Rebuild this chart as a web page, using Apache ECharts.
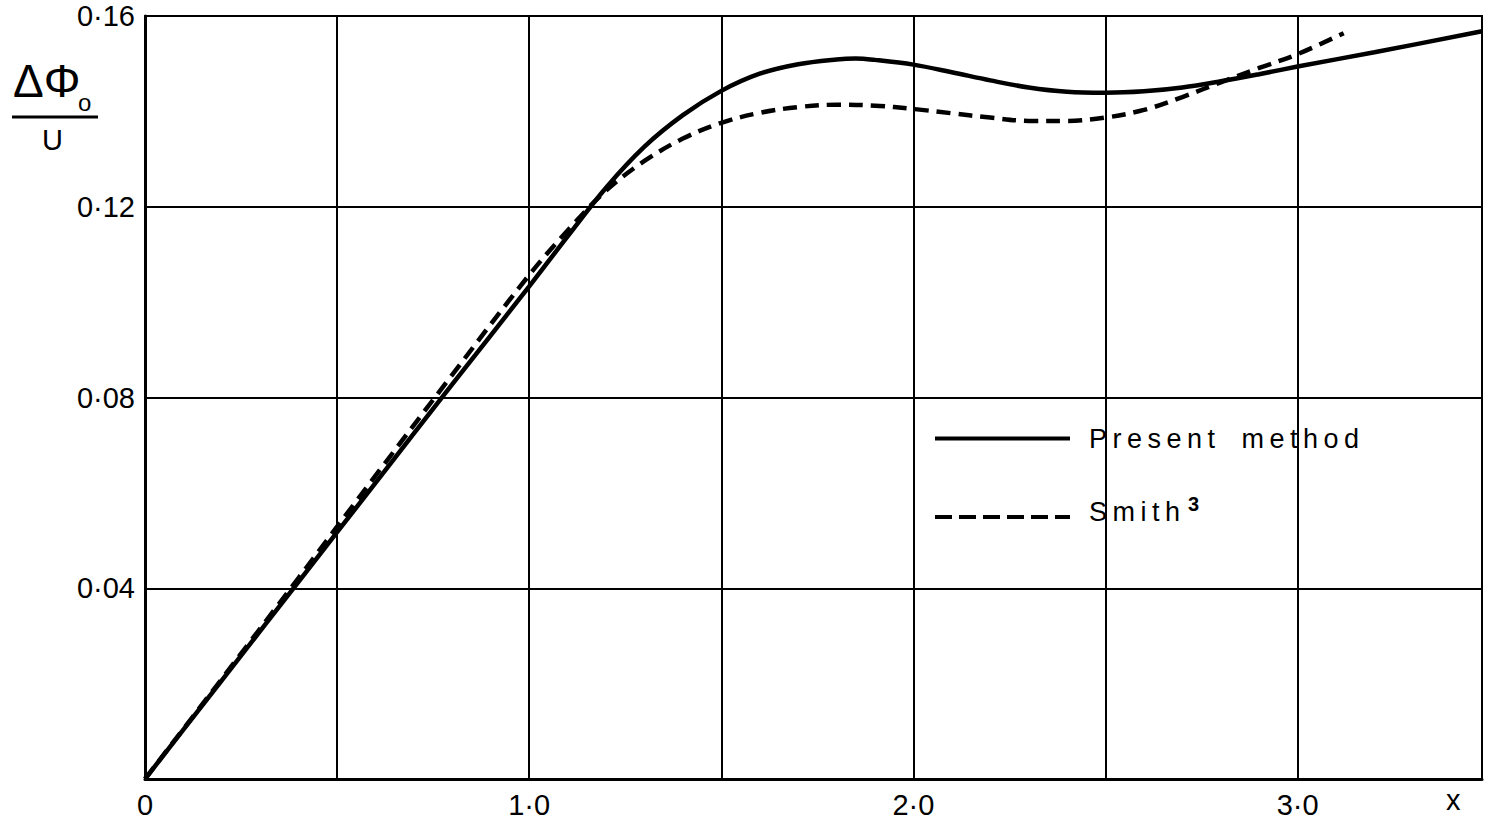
<!DOCTYPE html>
<html>
<head>
<meta charset="utf-8">
<script src="https://cdn.jsdelivr.net/npm/echarts@6/dist/echarts.min.js"></script>
<style>
  html, body { margin: 0; padding: 0; background: #fff; }
  #chart { width: 1490px; height: 827px; }
  #chart text[style*="27px"] { letter-spacing: 5.5px; word-spacing: 8px; }
</style>
</head>
<body>
<div id="chart"></div>
<script>
// Present method (solid)
const xPresent = [0, 0.2, 0.4, 0.6, 0.8, 1.0, 1.1, 1.2, 1.3, 1.4, 1.5, 1.6, 1.7, 1.8, 1.85, 1.9, 2.0, 2.1, 2.2, 2.3, 2.4, 2.5, 2.6, 2.7, 2.8, 2.9, 3.0, 3.2, 3.48];
const yPresent = [0, 0.0207, 0.0414, 0.0621, 0.0828, 0.1033, 0.1138, 0.1240, 0.1326, 0.1392, 0.1443, 0.1479, 0.1499, 0.1509, 0.1511, 0.1508, 0.1498, 0.1482, 0.1465, 0.1450, 0.1441, 0.1439, 0.1442, 0.1450, 0.1463, 0.1478, 0.1494, 0.1524, 0.1568];
// Smith^3 (dashed)
const xSmith = [0, 0.2, 0.4, 0.6, 0.8, 1.0, 1.1, 1.2, 1.3, 1.4, 1.5, 1.6, 1.7, 1.8, 1.9, 2.0, 2.1, 2.2, 2.3, 2.4, 2.5, 2.6, 2.7, 2.8, 2.9, 3.0, 3.12];
const ySmith = [0, 0.0210, 0.0422, 0.0636, 0.0848, 0.1057, 0.1150, 0.1234, 0.1296, 0.1343, 0.1376, 0.1397, 0.1409, 0.1414, 0.1412, 0.1405, 0.1396, 0.1387, 0.1380, 0.1380, 0.1387, 0.1403, 0.1430, 0.1461, 0.1491, 0.1520, 0.1564];

const seriesNames = ['Present method', 'Smith³'];
const legendRich = { 'Present method': '{p|Present method}', 'Smith³': '{a|Smith}{b|3}' };
const xLabelValues = [0, 1, 2, 3];
const xLabelTexts = ['0', '1·0', '2·0', '3·0'];
const yLabelValues = [0.04, 0.08, 0.12, 0.16];
const yLabelTexts = ['0·04', '0·08', '0·12', '0·16'];
const xAxisName = 'x';

const FONT = "'Liberation Sans'";
const DASH = [14, 8];

function pairs(xs, ys) { return xs.map((x, i) => [x, ys[i]]); }
function lookup(vals, texts, v) {
  for (let i = 0; i < vals.length; i++) if (Math.abs(vals[i] - v) < 1e-9) return texts[i];
  return '';
}

const chart = echarts.init(document.getElementById('chart'), null, { renderer: 'svg' });
chart.setOption({
  backgroundColor: '#fff',
  animation: false,
  grid: { left: 145, right: 8, top: 16, bottom: 48, show: true, borderColor: '#000', borderWidth: 2 },
  xAxis: {
    type: 'value', min: 0, max: 3.48, interval: 0.5,
    name: xAxisName, nameLocation: 'end', nameGap: -36,
    nameTextStyle: { fontFamily: FONT, fontSize: 29, color: '#000', verticalAlign: 'top', padding: [6, 0, 0, 0] },
    axisLine: { show: true, lineStyle: { color: '#000', width: 3 } },
    axisTick: { show: false },
    axisLabel: { interval: 0, margin: 11, fontFamily: FONT, fontSize: 29, color: '#000',
      formatter: v => lookup(xLabelValues, xLabelTexts, v) },
    splitLine: { show: true, lineStyle: { color: '#000', width: 2 } }
  },
  yAxis: {
    type: 'value', min: 0, max: 0.16, interval: 0.04,
    axisLine: { show: true, lineStyle: { color: '#000', width: 3 } },
    axisTick: { show: false },
    axisLabel: { margin: 10, fontFamily: FONT, fontSize: 29, color: '#000',
      formatter: v => lookup(yLabelValues, yLabelTexts, v) },
    splitLine: { show: true, lineStyle: { color: '#000', width: 2 } }
  },
  legend: {
    orient: 'vertical', left: 933, top: 425, padding: 0,
    itemWidth: 135, itemHeight: 14, itemGap: 42,
    itemStyle: { opacity: 0 },
    formatter: name => legendRich[name] || name,
    textStyle: {
      fontFamily: FONT, fontSize: 27, color: '#000', padding: [0, 0, 0, 14],
      rich: {
        p: { fontFamily: FONT, fontSize: 27, color: '#000', lineHeight: 30 },
        a: { fontFamily: FONT, fontSize: 27, color: '#000', lineHeight: 46, verticalAlign: 'top', padding: [4, 0, 0, 0] },
        b: { fontFamily: FONT, fontSize: 20, fontWeight: 'bold', color: '#000', lineHeight: 46, verticalAlign: 'top', padding: [0, 0, 0, 30] }
      }
    },
    data: [
      { name: seriesNames[0], lineStyle: { color: '#000', width: 4, type: 'solid' } },
      { name: seriesNames[1], lineStyle: { color: '#000', width: 4, type: [17, 7] } }
    ]
  },
  series: [
    { name: seriesNames[0], type: 'line', data: pairs(xPresent, yPresent), showSymbol: false, symbol: 'none',
      smooth: 0.35, lineStyle: { color: '#000', width: 4.5 }, itemStyle: { color: '#000' } },
    { name: seriesNames[1], type: 'line', data: pairs(xSmith, ySmith), showSymbol: false, symbol: 'none',
      smooth: 0.35, lineStyle: { color: '#000', width: 4.5, type: DASH }, itemStyle: { color: '#000' } }
  ],
  graphic: [
    { type: 'text', left: 13, top: 58, style: { text: 'ΔΦ', font: "46px 'Liberation Sans'", fill: '#000' } },
    { type: 'text', left: 78, top: 90, style: { text: 'o', font: "24px 'Liberation Sans'", fill: '#000' } },
    { type: 'line', shape: { x1: 12, y1: 117, x2: 98, y2: 117 }, style: { stroke: '#000', lineWidth: 3 } },
    { type: 'text', left: 42, top: 125, style: { text: 'U', font: "29px 'Liberation Sans'", fill: '#000' } }
  ]
});
</script>
</body>
</html>
